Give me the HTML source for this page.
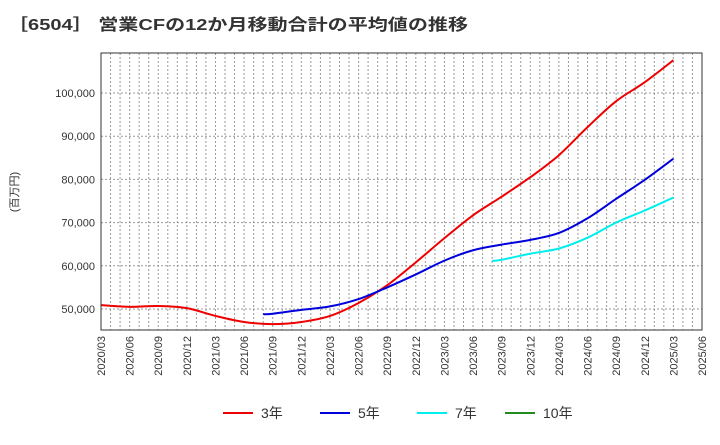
<!DOCTYPE html>
<html><head><meta charset="utf-8"><style>
body{margin:0;background:#fff;font-family:"Liberation Sans","Noto Sans CJK JP",sans-serif}
</style></head><body>
<svg width="720" height="440" xmlns="http://www.w3.org/2000/svg" font-family="Liberation Sans, Noto Sans CJK JP, sans-serif">
<text x="8" y="30" font-size="16" font-weight="bold" fill="#333" textLength="460" lengthAdjust="spacingAndGlyphs">［6504］ 営業CFの12か月移動合計の平均値の推移</text>
<text transform="translate(18,192) rotate(-90)" text-anchor="middle" font-size="11" fill="#333">(百万円)</text>
<g id="grid"></g><g id="axes"></g><g id="series"></g>
<rect x="101" y="53" width="601" height="277" fill="none" stroke="#333"/>
<g id="legend"></g>
</svg>
<script>
const xTickLabels=["2020/03","2020/06","2020/09","2020/12","2021/03","2021/06","2021/09","2021/12","2022/03","2022/06","2022/09","2022/12","2023/03","2023/06","2023/09","2023/12","2024/03","2024/06","2024/09","2024/12","2025/03","2025/06"];
const yTicks=[50000,60000,70000,80000,90000,100000];
const s3Months=[0,3,6,9,12,15,18,21,24,27,30,33,36,39,42,45,48,51,54,57,60];
const s3Values=[50900,50500,50700,50200,48400,47000,46500,47000,48400,51400,55500,60800,66400,71700,76000,80500,85600,92100,98100,102500,107600];
const s5Months=[17,18,21,24,27,30,33,36,39,42,45,48,51,54,57,60];
const s5Values=[48800,48900,49800,50600,52300,55000,58000,61200,63600,64900,66000,67600,71000,75500,79900,84800];
const s7Months=[41,42,45,48,51,54,57,60];
const s7Values=[61100,61400,62800,64000,66500,70000,72800,75800];
const NS="http://www.w3.org/2000/svg";
const X=m=>101+m*601/63;
const Y=v=>309-(v-50000)*0.00432;
function mk(tag,attrs,parent){const e=document.createElementNS(NS,tag);for(const k in attrs)e.setAttribute(k,attrs[k]);parent.appendChild(e);return e;}
const grid=document.getElementById('grid'),axes=document.getElementById('axes'),ser=document.getElementById('series'),leg=document.getElementById('legend');
for(let m=1;m<63;m++){const l=mk('line',{x1:X(m),x2:X(m),y1:53,y2:330,stroke:'#999','stroke-dasharray':'2,2','stroke-width':1},grid);

}
yTicks.forEach(v=>{const l=mk('line',{x1:101,x2:702,y1:Y(v),y2:Y(v),stroke:'#999','stroke-dasharray':'2,2'},grid);


const t=mk('text',{x:95,y:Y(v)+4,'text-anchor':'end','font-size':11,fill:'#333'},axes);t.textContent=v.toLocaleString('en-US');

});
xTickLabels.forEach((s,i)=>{const x=X(i*3);const t=mk('text',{transform:`translate(${x+4},336) rotate(-90)`,'text-anchor':'end','font-size':11,fill:'#333'},axes);t.textContent=s;

});
function path(ms,vs){const p=ms.map((m,i)=>[X(m),Y(vs[i])]);let d=`M${p[0][0]},${p[0][1]}`;
for(let i=0;i<p.length-1;i++){const p0=p[Math.max(0,i-1)],p1=p[i],p2=p[i+1],p3=p[Math.min(p.length-1,i+2)];
const c1=[p1[0]+(p2[0]-p0[0])/6,p1[1]+(p2[1]-p0[1])/6],c2=[p2[0]-(p3[0]-p1[0])/6,p2[1]-(p3[1]-p1[1])/6];
d+=` C${c1[0]},${c1[1]} ${c2[0]},${c2[1]} ${p2[0]},${p2[1]}`;}return d;}
[[s3Months,s3Values,'#ee0000','series-3yr'],[s5Months,s5Values,'#0000dd','series-5yr'],[s7Months,s7Values,'#00eeee','series-7yr']].forEach(([m,v,c,n])=>{
const e=mk('path',{d:path(m,v),fill:'none',stroke:c,'stroke-width':2},ser);

});
[['3年','#ee0000',223],['5年','#0000dd',320],['7年','#00eeee',417],['10年','#228b22',505]].forEach(([t,c,x])=>{
const g=mk('g',{},leg);


mk('line',{x1:x,x2:x+30,y1:413,y2:413,stroke:c,'stroke-width':2},g);
const tx=mk('text',{x:x+38,y:418,'font-size':14,fill:'#333'},g);tx.textContent=t;});
</script>
</body></html>
